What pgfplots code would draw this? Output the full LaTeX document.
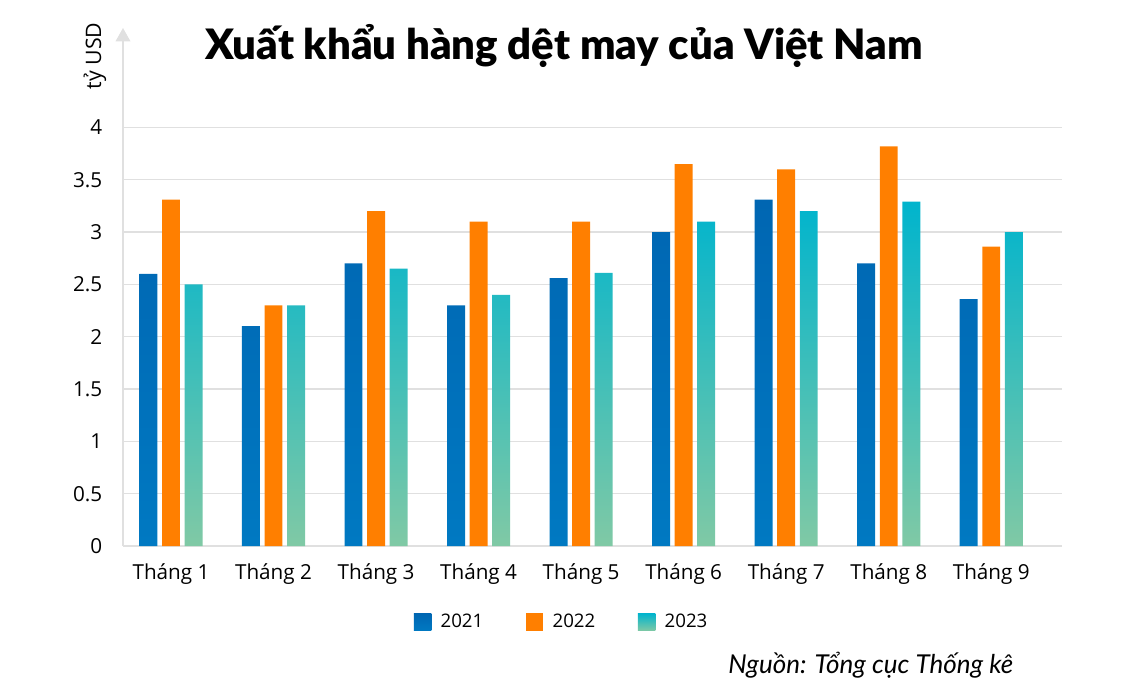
\documentclass[border=0pt]{standalone}
\usepackage{fontspec}
\setmainfont{Open Sans}
\newfontfamily\titlefont{Lato Black}
\newfontfamily\srcfont{Lato}
\usepackage{pgfplots}
\pgfplotsset{compat=1.18}
\usetikzlibrary{arrows.meta}
\definecolor{cA1}{HTML}{0066B2}
\definecolor{cA2}{HTML}{0079C2}
\definecolor{cB}{HTML}{FF7F00}
\definecolor{cC1}{HTML}{00B4CD}
\definecolor{cC2}{HTML}{80C9A5}
\definecolor{gridc}{HTML}{E0E0E0}
\begin{document}
\begin{tikzpicture}
\path[use as bounding box] (0,0) rectangle (843pt,520.5pt);
\begin{axis}[
  at={(92.25pt,111pt)}, anchor=south west,
  scale only axis, width=704.25pt, height=388.5pt,
  xmin=-0.468, xmax=8.69, ymin=0, ymax=4.95,
  axis lines=left,
  x axis line style={draw=gridc, line width=1pt, -},
  y axis line style={draw=gridc, line width=1pt, -{Triangle[width=11pt,length=10pt]}},
  xtick={0,...,8},
  xticklabels={Tháng 1,Tháng 2,Tháng 3,Tháng 4,Tháng 5,Tháng 6,Tháng 7,Tháng 8,Tháng 9},
  ytick={0,0.5,...,4},
  yticklabels={0,0.5,1,1.5,2,2.5,3,3.5,4},
  major tick length=0pt,
  ymajorgrids, grid style={draw=gridc, line width=1pt},
  tick label style={font=\fontsize{15.5}{18}\selectfont},
  yticklabel shift=12pt,
  xticklabel style={yshift=-10pt},
  /pgf/number format/assume math mode=true,
  ybar, bar width=0.175,
  legend style={at={(0.4675,-0.147)}, anchor=center, draw=none,
    legend columns=3, font=\fontsize{14}{16}\selectfont,
    /tikz/every odd column/.append style={column sep=5pt},
    /tikz/every even column/.append style={column sep=30pt}},
  legend image code/.code={\path[#1] (0pt,-6.5pt) rectangle (13pt,6.5pt);},
]
\addplot[bar shift=-0.22, draw=none, top color=cA1, bottom color=cA2] coordinates {
(0,2.60) (1,2.10) (2,2.70) (3,2.30) (4,2.56) (5,3.00) (6,3.31) (7,2.70) (8,2.36)};
\addplot[bar shift=0, draw=none, fill=cB] coordinates {
(0,3.31) (1,2.30) (2,3.20) (3,3.10) (4,3.10) (5,3.65) (6,3.60) (7,3.82) (8,2.86)};
\addplot[bar shift=0.22, draw=none, top color=cC1, middle color=cC1!70!cC2, bottom color=cC2] coordinates {
(0,2.50) (1,2.30) (2,2.65) (3,2.40) (4,2.61) (5,3.10) (6,3.20) (7,3.29) (8,3.00)};
\legend{2021,2022,2023}
\end{axis}
\node at (423pt,486pt) {\titlefont\fontsize{31.4}{37}\selectfont Xuất khẩu hàng dệt may của Việt Nam};
\node[rotate=90] at (71.25pt,478.5pt) {\fontsize{16}{18}\selectfont tỷ USD};
\node[anchor=east] at (763.5pt,21.75pt) {\srcfont\itshape\fontsize{19.5}{22}\selectfont Nguồn: Tổng cục Thống kê};
\end{tikzpicture}
\end{document}
